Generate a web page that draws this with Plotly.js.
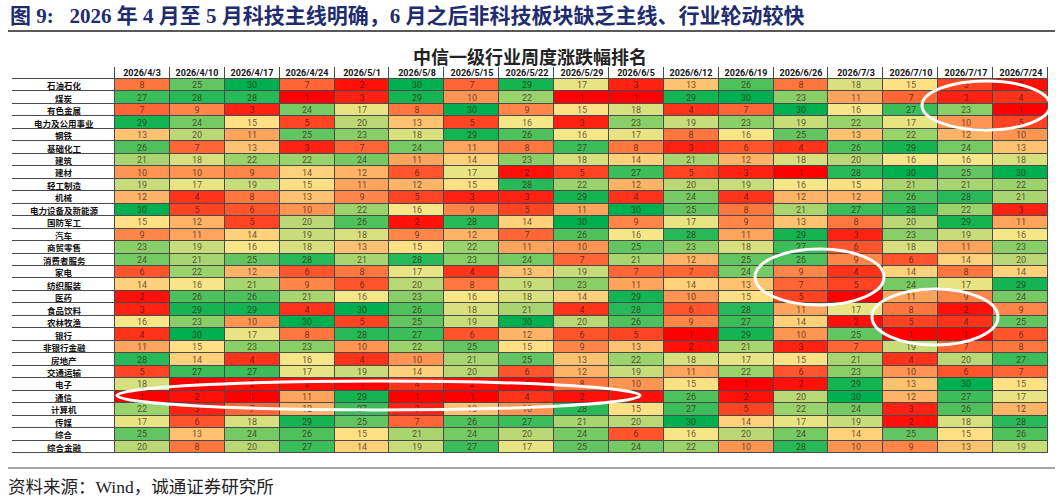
<!DOCTYPE html>
<html>
<head>
<meta charset="utf-8">
<script src="https://cdn.plot.ly/plotly-3.0.1.min.js"></script>
<style>html,body{margin:0;padding:0;background:#fff;}#chart{width:1062px;height:499px;}</style>
</head>
<body>
<div id="chart"></div>
<script>
const dates = ['2026/4/3','2026/4/10','2026/4/17','2026/4/24','2026/5/1','2026/5/8','2026/5/15','2026/5/22','2026/5/29','2026/6/5','2026/6/12','2026/6/19','2026/6/26','2026/7/3','2026/7/10','2026/7/17','2026/7/24'];
const industries = ['石油石化','煤炭','有色金属','电力及公用事业','钢铁','基础化工','建筑','建材','轻工制造','机械','电力设备及新能源','国防军工','汽车','商贸零售','消费者服务','家电','纺织服装','医药','食品饮料','农林牧渔','银行','非银行金融','房地产','交通运输','电子','通信','计算机','传媒','综合','综合金融'];

// weekly rank of each industry (same order as industries)
const w0403 = [8,27,7,29,13,26,21,10,19,12,30,15,9,23,24,6,14,2,3,16,4,11,28,5,18,1,22,17,25,20];
const w0410 = [25,28,9,24,20,7,18,10,17,4,5,12,11,19,21,22,16,26,29,23,30,15,14,27,1,2,3,6,13,8];
const w0417 = [30,28,3,15,11,13,22,9,19,8,6,5,14,16,25,12,21,26,29,10,17,23,4,27,2,1,7,18,24,20];
const w0424 = [7,1,24,5,25,3,22,14,15,13,10,20,19,18,28,6,9,21,4,30,8,23,16,17,2,11,12,29,26,27];
const w0501 = [2,3,17,20,23,7,24,12,11,9,22,26,18,13,21,8,6,16,30,5,28,10,4,19,1,29,27,25,15,14];
const w0508 = [30,29,8,13,18,24,11,6,12,5,16,2,9,15,28,17,20,23,26,25,27,22,10,14,4,1,3,7,21,19];
const w0515 = [7,10,30,5,29,11,14,17,15,3,9,28,12,22,23,4,8,16,18,19,6,25,21,20,2,1,13,26,24,27];
const w0522 = [29,22,9,16,26,8,23,2,28,3,5,14,7,11,24,13,19,18,21,30,12,15,25,6,1,4,10,27,20,17];
const w0529 = [17,1,15,3,16,27,18,5,22,29,11,30,26,10,7,19,23,14,4,20,6,9,13,12,8,2,28,21,24,25];
const w0605 = [3,1,18,23,17,8,14,27,12,4,30,9,16,25,21,7,11,29,28,26,5,13,22,19,10,2,15,20,6,24];
const w0612 = [13,29,4,19,8,3,21,5,20,24,25,17,28,23,12,7,14,10,6,9,1,2,18,11,15,26,27,30,16,22];
const w0619 = [26,30,7,23,16,6,12,3,19,4,8,9,11,18,25,24,13,15,28,27,29,21,17,22,1,2,5,14,20,10];
const w0626 = [8,23,30,19,25,4,18,1,16,12,21,13,29,27,26,9,7,5,11,14,10,3,15,6,2,20,22,17,24,28];
const w0703 = [18,11,16,22,13,26,20,28,15,12,27,8,3,6,9,4,5,1,17,2,25,7,21,23,29,30,24,19,14,10];
const w0710 = [15,7,27,17,22,29,16,30,21,26,28,20,23,18,6,14,24,11,8,5,1,19,4,10,13,12,3,2,25,9];
const w0717 = [5,3,23,10,12,24,16,25,21,28,22,29,19,11,14,8,17,9,2,4,1,7,20,6,30,27,26,18,15,13];
const w0724 = [2,4,1,5,10,13,18,30,22,21,3,11,16,23,20,14,29,24,9,25,6,8,27,7,15,17,12,28,26,19];

const weeks = [w0403,w0410,w0417,w0424,w0501,w0508,w0515,w0522,w0529,w0605,w0612,w0619,w0626,w0703,w0710,w0717,w0724];
const z = industries.map((_, i) => weeks.map(w => w[i]));

const W = 1062, H = 499;
const px = v => v / W;
const py = v => 1 - v / H;

const gridColor = '#4a4a4a';
const white = [[0,'#ffffff'],[1,'#ffffff']];

const main = {
  type: 'heatmap', x: dates, y: industries, z: z,
  xaxis: 'x', yaxis: 'y',
  zmin: 1, zmax: 30,
  colorscale: [[0,'#FF0000'],[0.25,'#FF7A40'],[0.5,'#FFE88A'],[0.75,'#8ECF68'],[1,'#00B050']],
  showscale: false, xgap: 1, ygap: 1,
  texttemplate: '%{z}',
  textfont: {family: 'Roboto, Arial, sans-serif', size: 9, color: 'rgba(50,25,10,0.72)'},
  hoverinfo: 'x+y+z'
};
const labelCol = {
  type: 'heatmap', x: ['lab'], y: industries, z: industries.map(() => [0]),
  xaxis: 'x2', yaxis: 'y',
  colorscale: white, showscale: false, xgap: 1, ygap: 1,
  hoverinfo: 'skip'
};
const header = {
  type: 'heatmap', x: dates, y: ['hdr'], z: [dates.map(() => 0)],
  text: [dates],
  xaxis: 'x', yaxis: 'y2',
  colorscale: white, showscale: false, xgap: 1, ygap: 1,
  texttemplate: '<b>%{text}</b>',
  textfont: {family: 'Roboto, Arial, sans-serif', size: 9, color: '#111'},
  hoverinfo: 'skip'
};
const corner = {
  type: 'heatmap', x: ['lab'], y: ['hdr'], z: [[0]],
  xaxis: 'x2', yaxis: 'y2',
  colorscale: white, showscale: false, xgap: 1, ygap: 1, hoverinfo: 'skip'
};

const ax = {showticklabels: false, showgrid: false, zeroline: false, ticks: '', fixedrange: true, showline: false};

const ell = (x0, y0, x1, y1) => ({type: 'circle', xref: 'paper', yref: 'paper',
  x0: px(x0), x1: px(x1), y0: py(y0), y1: py(y1), line: {color: '#ffffff', width: 3}});

// table body spans 79..453 px vertically; one label per row, centred in the label column
const bodyTop = 79, bodyBottom = 453;
const rowH = (bodyBottom - bodyTop) / industries.length;
const rowLabels = industries.map((s, i) => ({
  xref: 'paper', yref: 'paper', x: px(64), y: py(bodyTop + (i + 0.5) * rowH),
  xanchor: 'center', yanchor: 'middle', showarrow: false,
  text: s,
  font: {family: 'Noto Sans CJK SC', size: 8.5, color: '#111', weight: 'bold'}
}));

const layout = {
  width: W, height: H,
  margin: {l: 0, r: 0, t: 0, b: 0},
  paper_bgcolor: '#ffffff', plot_bgcolor: gridColor,
  showlegend: false,
  xaxis: Object.assign({}, ax, {domain: [px(115), px(1048)], anchor: 'y', type: 'category'}),
  xaxis2: Object.assign({}, ax, {domain: [px(12), px(115)], anchor: 'y', type: 'category'}),
  yaxis: Object.assign({}, ax, {domain: [py(bodyBottom), py(bodyTop)], anchor: 'x', type: 'category', autorange: 'reversed'}),
  yaxis2: Object.assign({}, ax, {domain: [py(bodyTop), py(67)], anchor: 'x', type: 'category'}),
  annotations: [
    {xref: 'paper', yref: 'paper', x: px(8), y: py(16), xanchor: 'left', yanchor: 'middle', showarrow: false,
     text: '图 9:   2026 年 4 月至 5 月科技主线明确，6 月之后非科技板块缺乏主线、行业轮动较快',
     font: {family: 'Liberation Serif, Noto Sans CJK SC', size: 21, color: '#1F2D6E', weight: 'bold'}},
    {xref: 'paper', yref: 'paper', x: px(530), y: py(56), xanchor: 'center', yanchor: 'middle', showarrow: false,
     text: '中信一级行业周度涨跌幅排名',
     font: {family: 'Noto Sans CJK SC', size: 18, color: '#222', weight: 'bold'}},
    {xref: 'paper', yref: 'paper', x: px(6), y: py(487), xanchor: 'left', yanchor: 'middle', showarrow: false,
     text: '资料来源：Wind，诚通证券研究所',
     font: {family: 'Liberation Serif, Noto Sans CJK SC', size: 17.5, color: '#222'}}
  ].concat(rowLabels),
  shapes: [
    {type: 'line', xref: 'paper', yref: 'paper', x0: px(8), x1: px(1055), y0: py(31), y1: py(31), line: {color: '#222', width: 1.5}},
    {type: 'line', xref: 'paper', yref: 'paper', x0: px(8), x1: px(1055), y0: py(468), y1: py(468), line: {color: '#888', width: 1.5}},
    ell(922, 81, 1050, 130),
    ell(755, 249, 884, 305),
    ell(872, 289, 998, 345),
    ell(117, 381, 640, 410)
  ]
};

Plotly.newPlot('chart', [main, labelCol, header, corner], layout, {staticPlot: true, displayModeBar: false});
</script>
</body>
</html>
